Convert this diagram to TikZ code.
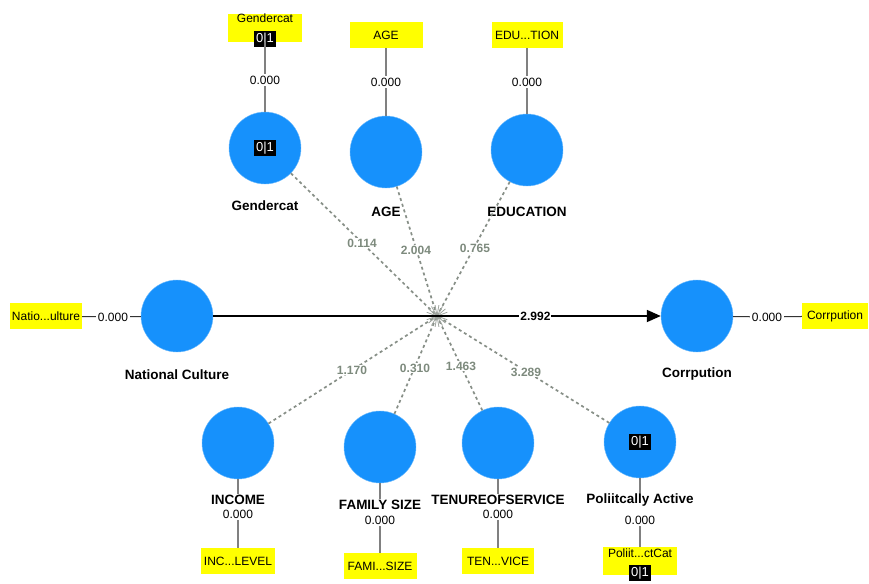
\documentclass[tikz,border=0pt]{standalone}
\usepackage{fontspec}
\setmainfont{Liberation Sans}
\usetikzlibrary{arrows.meta}
\definecolor{lvblue}{RGB}{22,145,252}
\definecolor{indyellow}{RGB}{255,255,0}
\definecolor{modgray}{RGB}{135,143,135}
\definecolor{coefgray}{RGB}{125,138,125}
\newcommand{\zeroone}{{\setlength{\fboxsep}{2pt}\fontsize{13}{14}\selectfont\colorbox{black}{\textcolor{white}{0|1}}}}

\begin{document}
\begin{tikzpicture}[x=1pt,y=-1pt,
    latent/.style={circle, fill=lvblue, draw=lvblue!60, minimum size=72pt, inner sep=0pt},
    indicator/.style={fill=indyellow, minimum width=74pt, minimum height=26pt, inner sep=1pt, font=\fontsize{12}{13}\selectfont},
    lvname/.style={font=\bfseries\fontsize{13.5}{14}\selectfont, inner sep=1pt},
    loading/.style={font=\fontsize{12}{13}\selectfont, inner sep=2pt},
    outer/.style={draw=gray, line width=1.4pt},
    moderating/.style={draw=modgray, line width=1.7pt, dash pattern=on 3pt off 3pt},
    coef/.style={text=coefgray, fill=white, inner sep=1pt, font=\bfseries\fontsize{12}{13}\selectfont}]
\useasboundingbox (0,0) rectangle (869,583);

% Latent variables
\node[latent] (nc) at (177,316) {};
\node[latent] (cor) at (697,316) {};
\node[latent] (gen) at (265,148) {\zeroone};
\node[latent] (age) at (386,152) {};
\node[latent] (edu) at (527,150) {};
\node[latent] (inc) at (238,443) {};
\node[latent] (fam) at (380,447) {};
\node[latent] (ten) at (498,443) {};
\node[latent] (pol) at (640,442) {\zeroone};
\coordinate (hub) at (437,316);

% Names
\node[lvname] (ncname) at (177,375) {National Culture};
\node[lvname] (corname) at (697,374) {Corrpution};
\node[lvname] (genname) at (265,206) {Gendercat};
\node[lvname] (agename) at (386,212) {AGE};
\node[lvname] (eduname) at (527,212) {EDUCATION};
\node[lvname] (incname) at (238,500) {INCOME};
\node[lvname] (famname) at (380,505) {FAMILY SIZE};
\node[lvname] (tenname) at (498,500) {TENUREOFSERVICE};
\node[lvname] (polname) at (640,500) {Poliitcally Active};

% Indicators
\node[indicator, minimum width=72pt] (ncind) at (46,316) {Natio...ulture};
\node[indicator, minimum width=66pt] (corind) at (835,316) {Corrpution};
\node[indicator, minimum height=28pt] (genind) at (265,28) {};
\node[font=\fontsize{12}{13}\selectfont, inner sep=0pt] at (265,18) {Gendercat};
\node[inner sep=0pt] at (265,39) {\zeroone};
\node[indicator, minimum width=73pt] (ageind) at (386,35) {AGE};
\node[indicator, minimum width=71pt] (eduind) at (527,35) {EDU...TION};
\node[indicator] (incind) at (238,561) {INC...LEVEL};
\node[indicator, minimum width=73pt] (famind) at (380,566) {FAMI...SIZE};
\node[indicator, minimum width=72pt] (tenind) at (498,561) {TEN...VICE};
\node[indicator, minimum height=28pt] (polind) at (640,561) {};
\node[font=\fontsize{12}{13}\selectfont, inner sep=0pt] at (640,553) {Poliit...ctCat};
\node[inner sep=0pt] at (640,573) {\zeroone};

% Outer loadings
\node[loading] (ncload) at (113,317) {0.000};
\node[loading] (corload) at (767,317) {0.000};
\node[loading] (genload) at (265,80) {0.000};
\node[loading] (ageload) at (386,82) {0.000};
\node[loading] (eduload) at (527,82) {0.000};
\node[loading] (incload) at (238,514) {0.000};
\node[loading] (famload) at (380,520) {0.000};
\node[loading] (tenload) at (498,514) {0.000};
\node[loading] (polload) at (640,520) {0.000};

\draw[outer, line width=1pt, black!80] (ncind) -- (ncload) -- (nc);
\draw[outer, line width=1pt, black!80] (cor) -- (corload) -- (corind);
\foreach \lv in {gen,age,edu} {
  \draw[outer] (\lv ind) -- (\lv load) -- (\lv);
}
\foreach \lv in {inc,fam,ten,pol} {
  \draw[outer] (\lv) -- (\lv name);
  \draw[outer] (\lv load) -- (\lv ind);
}

% Moderating effects
\foreach \lv in {gen,age,edu,inc,fam,ten,pol} {
  \draw[moderating] (\lv) -- (hub);
}
\foreach \a in {0,20,...,340} {
  \draw[modgray!80, line width=0.8pt] (hub) -- ++(\a:11);
}
\node[coef] (cgen) at (362,243) {0.114};
\node[coef] (cage) at (416,250) {2.004};
\node[coef] (cedu) at (475,248) {0.765};
\node[coef] (cinc) at (352,370) {1.170};
\node[coef] (cfam) at (415,368) {0.310};
\node[coef] (cten) at (461,366) {1.463};
\node[coef] (cpol) at (526,372) {3.289};

% Structural path
\draw[line width=1.8pt, -{Triangle[length=14pt,width=12pt]}] (nc) -- (cor)
  node[pos=0.72, fill=white, inner sep=1pt, font=\bfseries\fontsize{12}{13}\selectfont] (cnc) {2.992};
\end{tikzpicture}
\end{document}
